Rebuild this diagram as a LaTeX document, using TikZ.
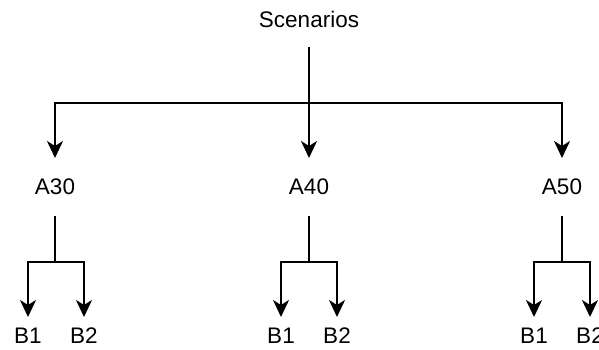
\documentclass[tikz,border=0pt]{standalone}
\usepackage{fontspec}
\setmainfont{Liberation Sans}
\usetikzlibrary{arrows.meta,calc}
\begin{document}
\begin{tikzpicture}[x=1pt,y=-1pt,
  lbl/.style={inner sep=0pt,outer sep=0pt,font=\fontsize{22.5}{25}\selectfont},
  top/.style={lbl,minimum height=56pt},
  mid/.style={lbl,minimum height=58pt},
  leaf/.style={lbl,minimum height=38pt},
  conn/.style={line width=2pt,line cap=rect},
  arr/.style={conn,line cap=butt,-{Stealth[length=17pt,width=16pt,inset=5pt]}}
]
\useasboundingbox (0,0) rectangle (599,349);

% labels
\node[top]  (scen) at (309,19)  {Scenarios};
\node[mid]  (a30)  at (55,187)  {A30};
\node[mid]  (a40)  at (309,187) {A40};
\node[mid]  (a50)  at (562,187) {A50};
\node[leaf] (b11)  at (28,336)  {B1};
\node[leaf] (b12)  at (84,336)  {B2};
\node[leaf] (b21)  at (281,336) {B1};
\node[leaf] (b22)  at (337,336) {B2};
\node[leaf] (b31)  at (534,336) {B1};
\node[leaf] (b32)  at (590,336) {B2};

% junction points
\coordinate (j0) at (309,103);
\coordinate (j1) at (55,262);
\coordinate (j2) at (309,262);
\coordinate (j3) at (562,262);

% first level
\draw[arr] (scen.south) -- (j0) -| (a30.north);
\draw[arr] (scen.south) -- (a40.north);
\draw[arr] (scen.south) -- (j0) -| (a50.north);

% second level
\draw[arr] (a30.south) -- (j1) -| (b11.north);
\draw[arr] (a30.south) -- (j1) -| (b12.north);
\draw[arr] (a40.south) -- (j2) -| (b21.north);
\draw[arr] (a40.south) -- (j2) -| (b22.north);
\draw[arr] (a50.south) -- (j3) -| (b31.north);
\draw[arr] (a50.south) -- (j3) -| (b32.north);
\end{tikzpicture}
\end{document}
